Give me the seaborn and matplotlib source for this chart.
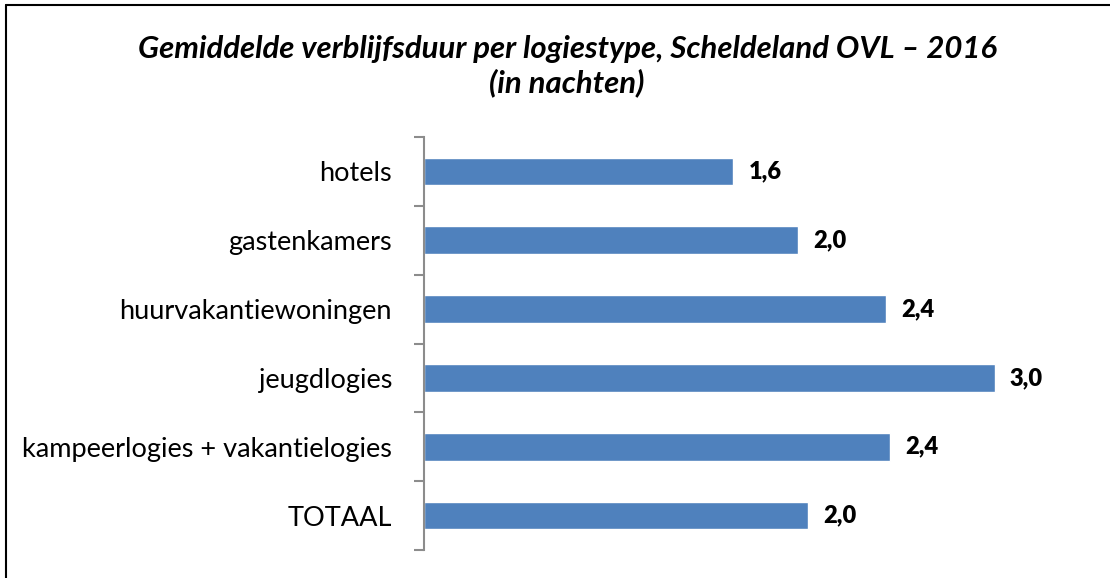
import matplotlib
matplotlib.use("Agg")
import matplotlib.pyplot as plt
import seaborn as sns
import pandas as pd
from matplotlib.lines import Line2D

categories = ["hotels", "gastenkamers", "huurvakantiewoningen", "jeugdlogies",
              "kampeerlogies + vakantielogies", "TOTAAL"]
values = [1.62, 1.96, 2.42, 2.99, 2.44, 2.01]
title = "Gemiddelde verblijfsduur per logiestype, Scheldeland OVL – 2016\n(in nachten)"

df = pd.DataFrame({"cat": categories, "val": values})

sns.set_theme(style="white")
plt.rcParams["font.family"] = ["Lato", "DejaVu Sans"]

fig = plt.figure(figsize=(11.10, 5.78), dpi=100)
ax = fig.add_axes([424 / 1110, 1 - 550 / 578, 668 / 1110, 413 / 578])

sns.barplot(data=df, x="val", y="cat", orient="h", color="#4F81BD",
            saturation=1, width=0.4, ax=ax, order=categories)

ax.set_xlim(0, 3.5)
ax.set_ylim(5.5, -0.5)
ax.set_xlabel("")
ax.set_ylabel("")
ax.set_xticks([])
for s in ["top", "right", "bottom"]:
    ax.spines[s].set_visible(False)
ax.spines["left"].set_color("#8C8C8C")
ax.spines["left"].set_linewidth(1.5)

ax.set_yticks(range(len(categories)))
ax.set_yticklabels(categories, fontsize=19.5, color="black")
ax.tick_params(axis="y", which="major", length=0, pad=23)
ax.set_yticks([i - 0.5 for i in range(len(categories) + 1)], minor=True)
ax.tick_params(axis="y", which="minor", length=7, width=1.5, color="#8C8C8C", left=True)

for i, v in enumerate(values):
    ax.text(v + 0.08, i, f"{v:.1f}".replace(".", ","), va="center", ha="left",
            fontsize=17, fontweight="heavy", color="black")

fig.text(567 / 1110, 1 - 66 / 578, title, ha="center", va="center", color="black",
         fontsize=22.4, fontweight="bold", fontstyle="italic", linespacing=1.2)

# frame (top and left visible)
fig.add_artist(Line2D([6 / 1110, 6 / 1110], [1 - 5 / 578, 0], transform=fig.transFigure,
                      color="black", linewidth=1.5))
fig.add_artist(Line2D([6 / 1110, 1], [1 - 5 / 578, 1 - 5 / 578], transform=fig.transFigure,
                      color="black", linewidth=1.5))

fig.savefig("out.png", dpi=100)
